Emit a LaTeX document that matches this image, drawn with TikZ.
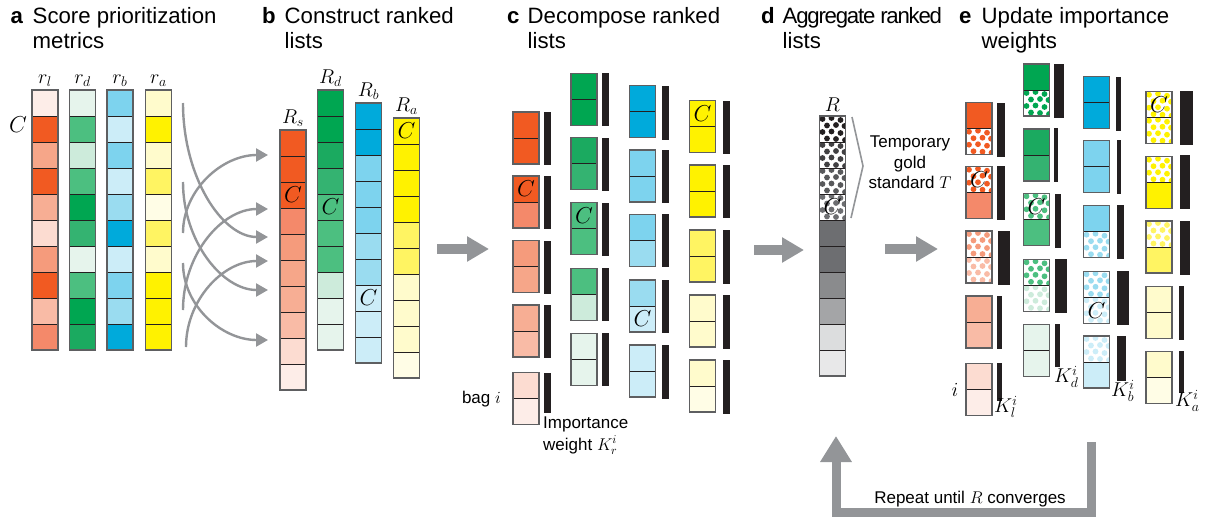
\RequirePackage{fix-cm}
\documentclass[tikz,border=0pt]{standalone}
\usepackage{fontspec}
\setmainfont{Liberation Sans}
\usetikzlibrary{arrows.meta}
\definecolor{O1}{HTML}{F15A22}
\definecolor{O2}{HTML}{F4896A}
\definecolor{O3}{HTML}{F59B7C}
\definecolor{O4}{HTML}{F6A689}
\definecolor{O4b}{HTML}{F7AE94}
\definecolor{O5}{HTML}{F9BBA6}
\definecolor{O6}{HTML}{FCDCD1}
\definecolor{O7}{HTML}{FDEDE8}
\definecolor{G1}{HTML}{00A651}
\definecolor{G2}{HTML}{1BAA60}
\definecolor{G3}{HTML}{34B371}
\definecolor{G4}{HTML}{4CBF80}
\definecolor{G5}{HTML}{CDEBDB}
\definecolor{G6}{HTML}{E6F4EC}
\definecolor{B1}{HTML}{00AADB}
\definecolor{B2}{HTML}{7DD3EE}
\definecolor{B3}{HTML}{9ADCF0}
\definecolor{B4}{HTML}{CCEDF8}
\definecolor{Y1}{HTML}{FFF200}
\definecolor{Y2}{HTML}{FFF462}
\definecolor{Y3}{HTML}{FFFBCC}
\definecolor{Y4}{HTML}{FFFDE6}
\definecolor{K1}{HTML}{231F20}
\definecolor{K2}{HTML}{414042}
\definecolor{K3}{HTML}{58595B}
\definecolor{K4}{HTML}{6D6E71}
\definecolor{K5}{HTML}{8A8B8D}
\definecolor{K6}{HTML}{A4A5A7}
\definecolor{K7}{HTML}{DCDDDE}
\definecolor{K8}{HTML}{E8E8E9}
\definecolor{edgedark}{HTML}{231F20}
\definecolor{outergray}{HTML}{5E5F61}
\definecolor{barblack}{HTML}{231F20}
\definecolor{arrowgray}{HTML}{939598}
\tikzset{
 celledge/.style={draw=edgedark, line width=0.7pt},
 outer/.style={draw=outergray, line width=1.5pt},
 bar/.style={fill=barblack},
 clab/.style={inner sep=0pt, font=\fontsize{23}{23}\selectfont},
 hdr/.style={inner sep=0pt, anchor=base west, font=\fontsize{22.2}{26}\selectfont},
 hdrl/.style={inner sep=0pt, anchor=base west, font=\fontsize{22.2}{26}\selectfont\bfseries},
 small/.style={inner sep=0pt, font=\fontsize{17}{20.5}\selectfont},
 mlab/.style={inner sep=0pt, font=\fontsize{20}{20}\selectfont},
 thinarrow/.style={draw=arrowgray, line width=2.4pt, -{Triangle[length=12pt,width=13pt]}},
 bigarrow/.style={draw=arrowgray, line width=10pt, -{Triangle[length=22pt,width=24pt]}},
 looparrow/.style={draw=arrowgray, line width=9pt, line join=miter, -{Triangle[length=26pt,width=30pt]}},
 bracket/.style={draw=arrowgray, line width=1.6pt},
}
\def\dotlist{3/3,12/2,21/4,7.5/9.5,16.5/9,25/10,3/16,12/15.5,21/17,7.5/22.5,16.5/23,25.5/24}
\newcommand{\scell}[3]{\fill[#3] (#1,#2) rectangle ++(26,26); \draw[celledge] (#1,#2) rectangle ++(26,26);}
\newcommand{\dcell}[3]{%
 \begin{scope}
 \clip (#1,#2) rectangle ++(26,26);
 \fill[white] (#1,#2) rectangle ++(26,26);
 \foreach \dx/\dy in \dotlist {\fill[#3] (#1+\dx,#2+\dy) circle (2.9pt);}
 \end{scope}
 \draw[celledge] (#1,#2) rectangle ++(26,26);}
\newcommand{\cellcol}[3]{%
 \foreach \c [count=\i from 0] in {#3} {\fill[\c] (#1,#2+26*\i) rectangle ++(26,26); \draw[celledge] (#1,#2+26*\i) rectangle ++(26,26);}
 \draw[outer] (#1,#2) rectangle ++(26,260);}
\newcommand{\bagout}[2]{\draw[outer] (#1,#2) rectangle ++(26,52);}
\newcommand{\sbag}[4]{\scell{#1}{#2}{#3}\scell{#1}{#2+26}{#4}\bagout{#1}{#2}}
\begin{document}
\begin{tikzpicture}[x=1pt,y=-1pt]
\useasboundingbox (0,0) rectangle (1208,520);
% headers
\node[hdrl] (ha) at (10.5,23) {a};
\node[hdr] (ta1) at (32.5,23) {Score prioritization};
\node[hdr] (ta2) at (32.5,48.5) {metrics};
\node[hdrl] (hb) at (262,23) {b};
\node[hdr] (tb1) at (284.5,23) {Construct ranked};
\node[hdr] (tb2) at (284.5,48.5) {lists};
\node[hdrl] (hc) at (507,23) {c};
\node[hdr] (tc1) at (527.5,23) {Decompose ranked};
\node[hdr] (tc2) at (527.5,48.5) {lists};
\node[hdrl] (hd) at (761,23) {d};
\node[hdr] (td1) at (782.5,23) {\addfontfeatures{LetterSpace=-5.5}Aggregate ranked};
\node[hdr] (td2) at (782.5,48.5) {lists};
\node[hdrl] (he) at (959,23) {e};
\node[hdr] (te1) at (981.5,23) {Update importance};
\node[hdr] (te2) at (981.5,48.5) {weights};
% panel a
\cellcol{32}{90}{O7,O1,O4,O1,O4b,O6,O3,O1,O5,O2}
\cellcol{69.5}{90}{G6,G4,G5,G4,G1,G3,G6,G4,G1,G2}
\cellcol{107}{90}{B2,B4,B2,B4,B3,B1,B4,B2,B3,B1}
\cellcol{145.5}{90}{Y3,Y1,Y3,Y2,Y4,Y2,Y3,Y1,Y1,Y1}
\node[mlab, anchor=south] (lrl) at (45,87) {$r_l$};
\node[mlab, anchor=south] (lrd) at (82.5,87) {$r_d$};
\node[mlab, anchor=south] (lrb) at (120,87) {$r_b$};
\node[mlab, anchor=south] (lra) at (158.5,87) {$r_a$};
\node[clab] (ca) at (18,125) {$C$};
% curved arrows a -> b
\coordinate (d1s) at (183,103); \coordinate (d1e) at (268,237);
\coordinate (d2s) at (183,182); \coordinate (d2e) at (268,290);
\coordinate (d3s) at (183,263); \coordinate (d3e) at (268,340);
\coordinate (u1s) at (183,233); \coordinate (u1e) at (268,155);
\coordinate (u2s) at (183,310); \coordinate (u2e) at (268,209);
\coordinate (u3s) at (186,347); \coordinate (u3e) at (268,261);
\draw[thinarrow] (d1s) .. controls +(0,74) and +(-46,0) .. (d1e);
\draw[thinarrow] (d2s) .. controls +(0,59) and +(-46,0) .. (d2e);
\draw[thinarrow] (d3s) .. controls +(0,43) and +(-46,0) .. (d3e);
\draw[thinarrow] (u1s) .. controls +(0,-43) and +(-46,0) .. (u1e);
\draw[thinarrow] (u2s) .. controls +(0,-56) and +(-46,0) .. (u2e);
\draw[thinarrow] (u3s) .. controls +(0,-47) and +(-45,0) .. (u3e);
% panel b
\cellcol{280}{130}{O1,O1,O1,O2,O3,O4,O4b,O5,O6,O7}
\cellcol{317.5}{90}{G1,G1,G2,G3,G4,G4,G4,G5,G6,G6}
\cellcol{355.5}{103}{B1,B1,B2,B2,B2,B3,B3,B4,B4,B4}
\cellcol{393.5}{118}{Y1,Y1,Y1,Y1,Y2,Y2,Y3,Y3,Y3,Y4}
\node[mlab, anchor=south] (lRs) at (293,127) {$R_s$};
\node[mlab, anchor=south] (lRd) at (330.5,87) {$R_d$};
\node[mlab, anchor=south] (lRb) at (368.5,100) {$R_b$};
\node[mlab, anchor=south] (lRa) at (406.5,115) {$R_a$};
\node[clab] (cbs) at (293,195) {$C$};
\node[clab] (cbd) at (330.5,207) {$C$};
\node[clab] (cbb) at (368.5,298) {$C$};
\node[clab] (cba) at (406.5,131) {$C$};
% big arrows
\coordinate (ab1) at (437,249); \coordinate (ab2) at (489,249);
\coordinate (ac1) at (754,250); \coordinate (ac2) at (804,250);
\coordinate (ad1) at (885,249); \coordinate (ad2) at (938,249);
\draw[bigarrow] (ab1) -- (ab2);
\draw[bigarrow] (ac1) -- (ac2);
\draw[bigarrow] (ad1) -- (ad2);
% panel c
\sbag{513}{112}{O1}{O1}
\sbag{513}{176}{O1}{O2}
\sbag{513}{240.5}{O3}{O4}
\sbag{513}{305}{O4b}{O5}
\sbag{513}{372.5}{O6}{O7}
\sbag{571}{73.3}{G1}{G1}
\sbag{571}{137.7}{G2}{G3}
\sbag{571}{202.7}{G4}{G4}
\sbag{571}{268.3}{G4}{G5}
\sbag{571}{333.3}{G6}{G6}
\sbag{629.5}{85.7}{B1}{B1}
\sbag{629.5}{150}{B2}{B2}
\sbag{629.5}{214.3}{B2}{B3}
\sbag{629.5}{280}{B3}{B4}
\sbag{629.5}{345}{B4}{B4}
\sbag{689.5}{100.7}{Y1}{Y1}
\sbag{689.5}{165}{Y1}{Y1}
\sbag{689.5}{230}{Y2}{Y2}
\sbag{689.5}{295}{Y3}{Y3}
\sbag{689.5}{360}{Y3}{Y4}
\node[clab] (cc1) at (526,189) {$C$};
\node[clab] (cc2) at (584,215.7) {$C$};
\node[clab] (cc3) at (642.5,319) {$C$};
\node[clab] (cc4) at (702.5,113.7) {$C$};
\foreach \y/\h in {112/53,176/53,240.5/53,305/53,372.5/40} \fill[bar] (544,\y) rectangle ++(7,\h);
\foreach \y/\h in {73.3/53,137.5/53,203/53,268.3/53,333.3/53} \fill[bar] (602,\y) rectangle ++(7,\h);
\foreach \y/\h in {86/54,149.5/53,214/53,280/53,345/54} \fill[bar] (662,\y) rectangle ++(7,\h);
\foreach \y/\h in {100.5/53.5,164.5/53,230/54,295/53.5,360/54} \fill[bar] (723,\y) rectangle ++(7,\h);
\node[small, anchor=east] (bagi) at (501,399) {bag $i$};
\node[small, anchor=base west] (imp1) at (543,428) {Importance};
\node[small, anchor=base west] (imp2) at (543,450) {weight $K_r^i$};
% panel d
\dcell{819.5}{116}{K1}
\dcell{819.5}{142}{K2}
\dcell{819.5}{168}{K3}
\dcell{819.5}{194}{K4}
\scell{819.5}{220}{K4}
\scell{819.5}{246}{K4}
\scell{819.5}{272}{K5}
\scell{819.5}{298}{K6}
\scell{819.5}{324}{K7}
\scell{819.5}{350}{K8}
\draw[outer] (819.5,116) rectangle ++(26,260);
\node[clab] (cd) at (832.5,207) {$C$};
\node[mlab, anchor=south] (lR) at (832.5,112) {$R$};
\coordinate (br1) at (852,117); \coordinate (br2) at (863,166); \coordinate (br3) at (851,218);
\draw[bracket] (br1) -- (br2) -- (br3);
\node[small, align=center] (tgs) at (910,162.5) {Temporary\\gold\\standard $T$};
% panel e
% orange
\scell{966}{102.7}{O1}\dcell{966}{128.7}{O1}\bagout{966}{102.7}
\dcell{966}{166.7}{O1}\scell{966}{192.7}{O2}\bagout{966}{166.7}
\dcell{966}{231}{O3}\dcell{966}{257}{O5}\bagout{966}{231}
\sbag{966}{296}{O4b}{O5}
\sbag{966}{363.3}{O6}{O7}
% green
\scell{1023.5}{64}{G1}\dcell{1023.5}{90}{G1}\bagout{1023.5}{64}
\sbag{1023.5}{129}{G2}{G3}
\dcell{1023.5}{193.3}{G4}\scell{1023.5}{219.3}{G4}\bagout{1023.5}{193.3}
\dcell{1023.5}{259.3}{G4}\dcell{1023.5}{285.3}{G5}\bagout{1023.5}{259.3}
\sbag{1023.5}{324.3}{G6}{G6}
% blue
\sbag{1083.5}{76.7}{B1}{B1}
\sbag{1083.5}{140.7}{B2}{B2}
\scell{1083.5}{205.7}{B2}\dcell{1083.5}{231.7}{B3}\bagout{1083.5}{205.7}
\dcell{1083.5}{271.3}{B3}\dcell{1083.5}{297.3}{B4}\bagout{1083.5}{271.3}
\dcell{1083.5}{336}{B4}\scell{1083.5}{362}{B4}\bagout{1083.5}{336}
% yellow
\dcell{1146}{91.7}{Y1}\dcell{1146}{117.7}{Y1}\bagout{1146}{91.7}
\dcell{1146}{156.7}{Y1}\scell{1146}{182.7}{Y1}\bagout{1146}{156.7}
\dcell{1146}{221}{Y2}\scell{1146}{247}{Y2}\bagout{1146}{221}
\sbag{1146}{286.7}{Y3}{Y3}
\sbag{1146}{351.7}{Y3}{Y4}
\node[clab] (ce1) at (979,179.7) {$C$};
\node[clab] (ce2) at (1036.5,206.3) {$C$};
\node[clab] (ce3) at (1096.5,310.3) {$C$};
\node[clab] (ce4) at (1159,104.7) {$C$};
\foreach \x/\y/\w/\h in {997/102.7/8/54, 997/166/8/54, 998/231/12/54, 997/296/4.5/53, 997/363.3/4.5/37.4,
 1054.3/64/9.7/53.7, 1054.3/128.3/3.7/53.4, 1055/194/5.7/53.7, 1055/259.3/11.7/53.4, 1055/324.3/5/42.4,
 1115.7/76.7/5.3/54, 1116.7/140/4.3/54, 1116.7/205/7.3/54, 1116.7/270.7/12.3/54.3, 1116.7/336/9/44.7,
 1180/90.7/12.7/54.3, 1180/155/10/54, 1180/221/10/54, 1179/286/5/54, 1179/351/5/42.3}
 \fill[bar] (\x,\y) rectangle ++(\w,\h);
\node[mlab, anchor=west] (kl) at (994,407) {$K_l^i$};
\node[mlab, anchor=west] (kd) at (1054,377) {$K_d^i$};
\node[mlab, anchor=west] (kb) at (1111,391) {$K_b^i$};
\node[mlab, anchor=west] (ka) at (1175,401) {$K_a^i$};
\node[mlab] (ie) at (955,390) {$i$};
% loop arrow
\coordinate (lp1) at (1091.5,442); \coordinate (lp2) at (1091.5,512.5);
\coordinate (lp3) at (836,512.5); \coordinate (lp4) at (836,436);
\draw[looparrow] (lp1) -- (lp2) -- (lp3) -- (lp4);
\node[small, anchor=base] (rep) at (970,503) {Repeat until $R$ converges};
\end{tikzpicture}
\end{document}
